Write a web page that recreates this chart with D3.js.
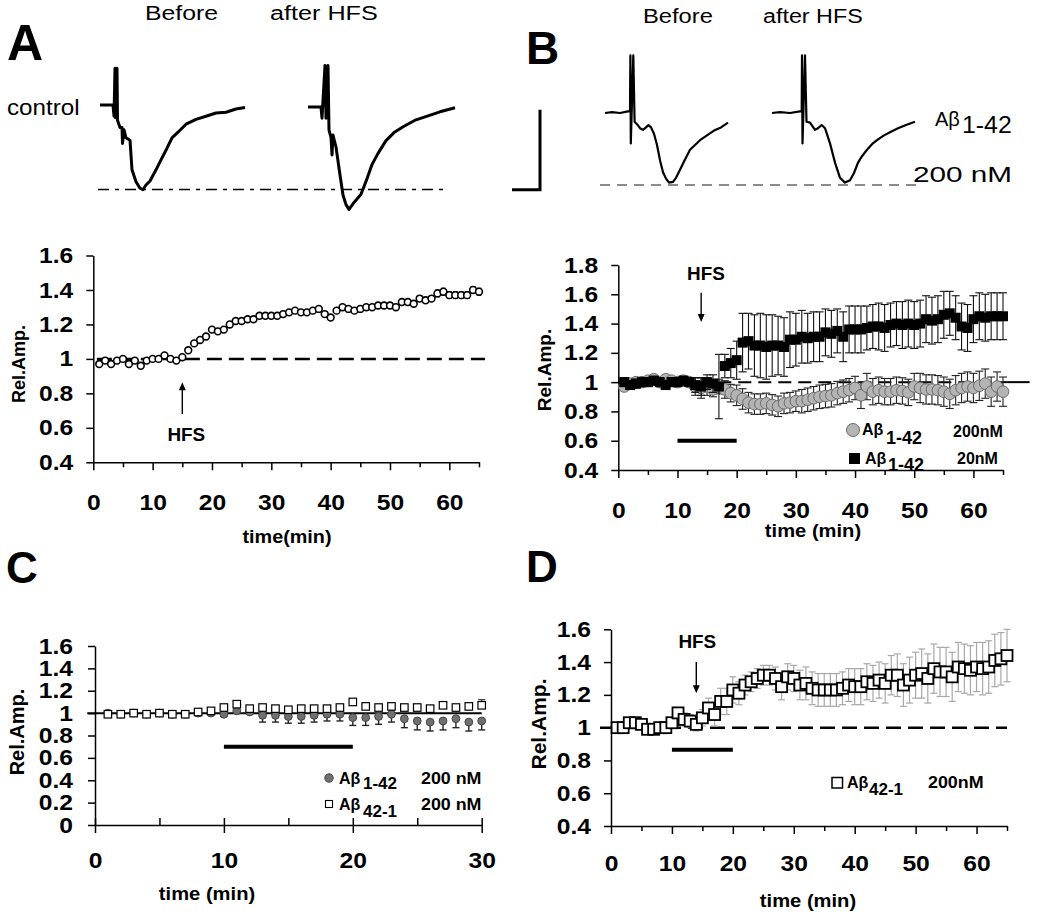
<!DOCTYPE html>
<html><head><meta charset="utf-8">
<script src="https://cdn.jsdelivr.net/npm/d3@7"></script>
<style>body{margin:0;background:#fff}svg{display:block}</style>
</head><body><svg id="c" width="1050" height="916"></svg>
<script>
// ---------------- DATA ----------------
// Panel A: control, relative amplitude per minute (1..65)
const ampA = [0.97,0.99,0.97,0.99,1.00,0.97,0.99,0.96,0.99,1.00,
  1.00,1.02,1.00,0.99,1.01,1.05,1.09,1.11,1.13,1.17,
  1.16,1.17,1.20,1.22,1.22,1.23,1.23,1.25,1.25,1.25,
  1.25,1.26,1.27,1.28,1.27,1.27,1.28,1.29,1.26,1.24,
  1.28,1.30,1.29,1.28,1.29,1.30,1.30,1.31,1.31,1.31,
  1.30,1.33,1.33,1.32,1.35,1.34,1.35,1.38,1.39,1.37,
  1.37,1.37,1.37,1.40,1.39];
const errA = [0.01,0.01,0.01,0.01,0.01,0.01,0.01,0.01,0.01,0.01,
  0.01,0.01,0.01,0.01,0.01,0.01,0.01,0.012,0.012,0.012,
  0.012,0.012,0.012,0.012,0.012,0.012,0.012,0.012,0.012,0.012,
  0.012,0.012,0.012,0.012,0.012,0.012,0.012,0.012,0.015,0.015,
  0.015,0.015,0.015,0.015,0.015,0.015,0.015,0.015,0.015,0.015,
  0.015,0.015,0.015,0.015,0.015,0.015,0.015,0.02,0.02,0.02,
  0.02,0.02,0.02,0.02,0.02];
// Panel B: Aβ1-42 20 nM (black squares) and 200 nM (grey circles)
const ampB20 = [1.00,0.98,0.99,1.00,1.00,1.01,1.00,0.98,1.00,1.00,
  1.01,1.00,0.98,0.97,1.00,0.99,0.97,1.11,1.13,1.15,
  1.27,1.28,1.25,1.25,1.24,1.25,1.25,1.24,1.29,1.29,
  1.31,1.30,1.31,1.31,1.34,1.33,1.35,1.31,1.36,1.36,
  1.36,1.37,1.38,1.38,1.37,1.39,1.40,1.39,1.40,1.39,
  1.40,1.43,1.42,1.43,1.46,1.47,1.44,1.38,1.37,1.43,
  1.45,1.44,1.45,1.45,1.45];
const errB20 = [0.03,0.03,0.03,0.03,0.03,0.03,0.03,0.03,0.03,0.03,
  0.03,0.03,0.05,0.06,0.05,0.06,0.22,0.08,0.10,0.13,
  0.20,0.19,0.21,0.22,0.22,0.21,0.20,0.20,0.19,0.18,
  0.18,0.17,0.17,0.17,0.16,0.16,0.15,0.17,0.16,0.16,
  0.16,0.15,0.15,0.16,0.16,0.15,0.15,0.16,0.16,0.16,
  0.16,0.16,0.16,0.16,0.16,0.15,0.15,0.16,0.16,0.16,
  0.16,0.16,0.16,0.16,0.16];
const ampB200 = [0.97,0.99,1.00,1.00,1.01,1.02,1.00,1.02,1.01,1.00,
  1.01,1.00,0.97,0.96,0.97,0.95,0.97,0.95,0.925,0.91,
  0.885,0.86,0.85,0.85,0.855,0.845,0.835,0.855,0.86,0.87,
  0.87,0.88,0.89,0.90,0.905,0.91,0.925,0.935,0.945,0.96,
  0.91,0.97,0.935,0.945,0.935,0.935,0.945,0.94,0.93,0.97,
  0.96,0.95,0.95,0.945,0.935,0.92,0.945,0.96,0.97,0.96,
  0.975,0.99,0.935,0.97,0.935];
const errB200 = [0.02,0.02,0.02,0.02,0.02,0.02,0.02,0.02,0.02,0.02,
  0.03,0.03,0.06,0.07,0.06,0.05,0.05,0.06,0.06,0.07,
  0.07,0.07,0.07,0.07,0.07,0.07,0.07,0.07,0.07,0.07,
  0.08,0.08,0.08,0.08,0.08,0.08,0.08,0.08,0.08,0.08,
  0.09,0.09,0.09,0.09,0.09,0.09,0.09,0.09,0.09,0.09,
  0.10,0.10,0.10,0.10,0.10,0.10,0.10,0.10,0.10,0.10,
  0.10,0.10,0.10,0.10,0.10];
// Panel C: Aβ1-42 200 nM (filled circles), Aβ42-1 200 nM (open squares), minutes 1..30
const ampC142 = [1.00,0.99,1.00,0.99,1.00,0.99,0.99,1.00,1.00,0.99,
  1.02,1.01,0.98,0.98,0.97,0.97,0.98,0.99,0.99,0.96,
  0.96,0.97,0.99,0.95,0.93,0.92,0.93,0.95,0.92,0.93];
const errC142 = [0.01,0.01,0.01,0.01,0.01,0.01,0.01,0.01,0.01,0.02,
  0.02,0.02,0.06,0.06,0.06,0.06,0.06,0.06,0.06,0.07,
  0.07,0.07,0.07,0.08,0.08,0.08,0.08,0.08,0.08,0.08];
const ampC421 = [0.99,0.99,1.00,0.99,1.00,0.99,0.99,1.01,1.02,1.05,
  1.08,1.04,1.05,1.04,1.03,1.04,1.04,1.04,1.05,1.10,
  1.06,1.05,1.06,1.05,1.05,1.04,1.07,1.05,1.06,1.07];
const errC421 = [0.01,0.01,0.01,0.01,0.01,0.01,0.01,0.01,0.01,0.01,
  0.01,0.01,0.01,0.01,0.01,0.01,0.01,0.01,0.01,0.02,
  0.02,0.02,0.02,0.02,0.02,0.02,0.02,0.02,0.02,0.05];
// Panel D: Aβ42-1 200 nM
const ampD = [1.00,1.00,1.03,1.03,1.02,0.99,0.99,1.00,1.00,1.03,
  1.09,1.05,1.04,1.02,1.06,1.12,1.08,1.16,1.16,1.23,
  1.21,1.26,1.28,1.30,1.32,1.32,1.30,1.25,1.31,1.30,
  1.26,1.27,1.24,1.23,1.23,1.23,1.23,1.24,1.26,1.25,
  1.25,1.28,1.27,1.29,1.27,1.32,1.32,1.26,1.29,1.32,
  1.33,1.30,1.36,1.34,1.34,1.31,1.37,1.36,1.35,1.37,
  1.36,1.37,1.41,1.42,1.44];
const errD = [0.02,0.02,0.02,0.02,0.02,0.02,0.02,0.02,0.02,0.03,
  0.03,0.04,0.04,0.04,0.05,0.06,0.07,0.08,0.08,0.08,
  0.07,0.06,0.06,0.06,0.06,0.06,0.07,0.08,0.08,0.08,
  0.09,0.10,0.10,0.10,0.10,0.10,0.10,0.10,0.10,0.11,
  0.11,0.11,0.11,0.11,0.12,0.12,0.13,0.13,0.14,0.14,
  0.15,0.15,0.15,0.15,0.15,0.15,0.15,0.15,0.15,0.15,
  0.16,0.16,0.16,0.16,0.16];
// tick values
const yTicksA = [0.4,0.6,0.8,1,1.2,1.4,1.6];
const yTicksB = [0.4,0.6,0.8,1,1.2,1.4,1.6,1.8];
const yTicksC = [0,0.2,0.4,0.6,0.8,1,1.2,1.4,1.6];
const yTicksD = [0.4,0.6,0.8,1,1.2,1.4,1.6];
const xTicks65 = [0,5,10,15,20,25,30,35,40,45,50,55,60,65];
const xTicks30 = [0,5,10,15,20,25,30];
// events
const hfsA = 15, hfsB = 14, hfsD = 14;
const drugBar = [10,20];
// field potential traces: [ms, mV]
const traceA1 = [[0,0],[2.6,0],[2.8,-0.14],[3.0,0.46],[3.1,-0.16],[3.4,0.46],[3.5,-0.19],[4.0,-0.28],[4.4,-0.28],[4.5,-0.48],[4.8,-0.31],[5.2,-0.41],[6.0,-0.44],[6.4,-0.81],[7.2,-0.96],[8.0,-1.04],[8.6,-1.06],[9.2,-1.0],[10.0,-0.95],[11.2,-0.81],[12.4,-0.66],[13.4,-0.54],[14.4,-0.41],[15.6,-0.34],[17.2,-0.24],[19.2,-0.18],[21.2,-0.14],[23.2,-0.10],[25.2,-0.09],[27.2,-0.05],[29.0,-0.03]];
const traceA2 = [[0,0],[2.6,0],[2.8,-0.14],[3.4,0.52],[3.6,-0.14],[4.0,0.52],[4.2,-0.29],[4.6,-0.38],[4.8,-0.6],[5.0,-0.35],[5.6,-0.5],[6.4,-0.85],[7.0,-1.1],[7.6,-1.22],[8.2,-1.28],[9.0,-1.21],[9.8,-1.15],[10.6,-1.09],[11.6,-0.93],[12.8,-0.72],[14.0,-0.58],[15.6,-0.42],[17.2,-0.32],[19.2,-0.24],[21.6,-0.16],[24.0,-0.11],[26.4,-0.06],[29.4,-0.01]];
const traceB1 = [[0,0],[1.4,0.01],[3.0,0],[4.6,0.02],[5.0,0.02],[5.08,0.72],[5.16,-0.38],[5.66,0.72],[5.92,-0.11],[6.4,-0.14],[7.0,-0.19],[7.6,-0.21],[8.2,-0.18],[8.7,-0.15],[9.2,-0.18],[9.8,-0.26],[10.4,-0.4],[11.0,-0.59],[11.6,-0.74],[12.2,-0.82],[12.8,-0.87],[13.6,-0.86],[14.2,-0.81],[15.0,-0.71],[16.0,-0.58],[17.0,-0.46],[18.0,-0.4],[19.0,-0.34],[20.4,-0.28],[21.8,-0.22],[23.2,-0.18],[24.6,-0.12]];
const traceB2 = [[0,0],[1.6,0.01],[3.6,0],[5.6,0.02],[5.94,0.02],[6.0,0.72],[6.1,-0.38],[6.6,0.72],[6.9,-0.11],[7.6,-0.12],[8.6,-0.21],[9.2,-0.19],[9.94,-0.15],[10.6,-0.19],[11.6,-0.38],[12.6,-0.62],[13.6,-0.81],[14.6,-0.87],[15.6,-0.84],[16.4,-0.75],[17.2,-0.62],[18.0,-0.54],[19.0,-0.46],[20.0,-0.39],[21.0,-0.34],[22.4,-0.28],[23.6,-0.24],[25.2,-0.19],[26.8,-0.15],[28.6,-0.11]];
const scaleBar = {ms: 5.6, mV: 1.0};

// ---------------- DRAWING ----------------
const FONT = '"Liberation Sans", Arial, Helvetica, sans-serif';
const svg = d3.select("#c").attr("font-family", FONT);
const SX = 1.12;

function T(x, y, str, o = {}) {
  const s = o.sx || SX;
  return svg.append("text")
    .attr("transform", `translate(${x},${y}) scale(${s},1)`)
    .attr("font-family", FONT)
    .attr("font-size", o.size || 20)
    .attr("font-weight", o.bold ? "bold" : "normal")
    .attr("text-anchor", o.anchor || "start")
    .attr("fill", o.fill || "#000")
    .text(str);
}
function vText(x, y, str, size) {
  svg.append("text").attr("transform", `translate(${x},${y}) rotate(-90)`)
    .attr("font-family", FONT).attr("font-size", size).attr("font-weight", "bold")
    .attr("text-anchor", "middle").attr("dominant-baseline", "central").text(str);
}
const yfmt = d => String(+d.toFixed(1));

function axes(x, y, o) {
  const g = svg.append("g");
  const gy = g.append("g").attr("transform", `translate(${x(0)},0)`)
    .call(d3.axisLeft(y).tickValues(o.yTicks).tickSize(7).tickPadding(o.yPad || 13).tickSizeOuter(0).tickFormat(yfmt));
  const gx = g.append("g").attr("transform", `translate(0,${y(o.yTicks[0])})`)
    .call(d3.axisBottom(x).tickValues(o.xTicks).tickSize(8).tickPadding(o.xPad).tickSizeOuter(0)
      .tickFormat(d => d % 10 === 0 ? d : ""));
  [gx, gy].forEach(a => {
    a.attr("font-family", FONT).attr("font-size", null);
    a.select(".domain").attr("stroke", "#000").attr("stroke-width", 1.5);
    a.selectAll(".tick line").attr("stroke", "#000").attr("stroke-width", 1.5);
    a.selectAll(".tick text").attr("font-size", o.fs || 22).attr("font-weight", o.weight || "bold").attr("fill", "#000")
      .each(function () {
        const t = d3.select(this); const xx = +t.attr("x") || 0;
        t.attr("x", xx / SX).attr("transform", `scale(${SX},1)`);
      });
  });
  if (o.crossMajor) {
    gx.selectAll(".tick line").attr("y1", d => d % 10 === 0 ? -7 : 0).attr("y2", d => d % 10 === 0 ? 8 : -7);
  } else {
    gx.selectAll(".tick line").attr("y2", d => d % 10 === 0 ? 8 : 5);
  }
}

function errBars(x, y, vals, errs, o) {
  const g = svg.append("g").attr("stroke", o.color || "#000").attr("stroke-width", o.w || 1.2).attr("fill", "none");
  const c = (o.cap || 6) / 2;
  vals.forEach((v, i) => {
    const t = i + 1, e = errs[i];
    const hi = o.dir === "down" ? v : v + e, lo = o.dir === "up" ? v : v - e;
    g.append("line").attr("x1", x(t)).attr("x2", x(t)).attr("y1", y(hi)).attr("y2", y(lo));
    if (o.dir !== "down") g.append("line").attr("x1", x(t) - c).attr("x2", x(t) + c).attr("y1", y(hi)).attr("y2", y(hi));
    if (o.dir !== "up") g.append("line").attr("x1", x(t) - c).attr("x2", x(t) + c).attr("y1", y(lo)).attr("y2", y(lo));
  });
}
function circles(x, y, vals, o) {
  svg.append("g").selectAll("circle").data(vals).join("circle")
    .attr("cx", (d, i) => x(i + 1)).attr("cy", d => y(d)).attr("r", o.r)
    .attr("fill", o.fill).attr("stroke", o.stroke).attr("stroke-width", o.sw);
}
function squares(x, y, vals, o) {
  svg.append("g").selectAll("rect").data(vals).join("rect")
    .attr("x", (d, i) => x(i + 1) - o.s / 2).attr("y", d => y(d) - o.s / 2)
    .attr("width", o.s).attr("height", o.s)
    .attr("fill", o.fill).attr("stroke", o.stroke).attr("stroke-width", o.sw);
}
function hline(x, y, t0, t1, v, o) {
  svg.append("line").attr("x1", x(t0)).attr("x2", x(t1)).attr("y1", y(v)).attr("y2", y(v))
    .attr("stroke", o.color || "#000").attr("stroke-width", o.w || 2).attr("stroke-dasharray", o.dash || null);
}
function arrow(x, y, t, vFrom, vTo) {
  const x0 = x(t), y0 = y(vFrom), y1 = y(vTo);
  const dir = y1 > y0 ? 1 : -1;
  svg.append("line").attr("x1", x0).attr("x2", x0).attr("y1", y0).attr("y2", y1 - dir * 6)
    .attr("stroke", "#000").attr("stroke-width", 1.4);
  svg.append("path").attr("d", `M${x0 - 3.5},${y1 - dir * 8}L${x0 + 3.5},${y1 - dir * 8}L${x0},${y1}Z`).attr("fill", "#000");
}

// ---------- Panel letters & trace headers ----------
T(7, 60, "A", {size: 50, bold: true, sx: 1});
T(526, 64, "B", {size: 46, bold: true, sx: 1});
T(6, 583, "C", {size: 44, bold: true, sx: 1});
T(526, 582, "D", {size: 44, bold: true, sx: 1});

T(145, 20, "Before", {size: 21, sx: 1.18});
T(270, 20, "after HFS", {size: 21, sx: 1.2});
T(643, 23, "Before", {size: 21, sx: 1.13});
T(763, 23, "after HFS", {size: 21, sx: 1.11});
T(7, 115, "control", {size: 22, sx: 1.1});

// ---------- Traces ----------
function traceScales(x0, y0) {
  return [d3.scaleLinear().domain([0, 1]).range([x0, x0 + 5]),
          d3.scaleLinear().domain([0, -1]).range([y0, y0 + 80])];
}
function drawTrace(data, sc, w) {
  svg.append("path").datum(data)
    .attr("d", d3.line().x(d => sc[0](d[0])).y(d => sc[1](d[1])))
    .attr("fill", "none").attr("stroke", "#000").attr("stroke-width", w)
    .attr("stroke-linejoin", "round");
}
const scA1 = traceScales(100, 105), scA2 = traceScales(308, 107);
const scB1 = traceScales(605, 113), scB2 = traceScales(772, 113);
// dashed reference lines (peak level)
svg.append("line").attr("x1", scA1[0](-0.4)).attr("x2", scA1[0](69)).attr("y1", scA1[1](-1.056)).attr("y2", scA1[1](-1.056))
  .attr("stroke", "#000").attr("stroke-width", 1.6).attr("stroke-dasharray", "11,6,4,6");
svg.append("line").attr("x1", scB1[0](-1)).attr("x2", scB1[0](63)).attr("y1", scB1[1](-0.9)).attr("y2", scB1[1](-0.9))
  .attr("stroke", "#666").attr("stroke-width", 1.4).attr("stroke-dasharray", "10,7");
drawTrace(traceA1, scA1, 3);
drawTrace(traceA2, scA2, 3);
drawTrace(traceB1, scB1, 2.2);
drawTrace(traceB2, scB2, 2.2);
// scale bar
{
  const cx = scB1[0](-13), cy = scB1[1](-0.96);
  svg.append("path")
    .attr("d", `M${cx},${scB1[1](-0.96 + scaleBar.mV)}L${cx},${cy}L${scB1[0](-13 - scaleBar.ms)},${cy}`)
    .attr("fill", "none").attr("stroke", "#000").attr("stroke-width", 3);
}
T(935, 126, "Aβ", {size: 20, sx: 1});
T(962, 133, "1-42", {size: 23, sx: 1.08});
T(913, 182, "200 nM", {size: 22, sx: 1.35});

// ---------- Panel A ----------
{
  const x = d3.scaleLinear().domain([0, 65]).range([93.3, 479]);
  const y = d3.scaleLinear().domain([0.4, 1.6]).range([462.3, 255.5]);
  axes(x, y, {yTicks: yTicksA, xTicks: xTicks65, xPad: 24});
  hline(x, y, 0.6, 66, 1, {w: 2.5, dash: "15,7"});
  errBars(x, y, ampA, errA, {cap: 5, w: 1});
  circles(x, y, ampA, {r: 3.4, fill: "#fff", stroke: "#000", sw: 1.6});
  arrow(x, y, hfsA, 0.68, 0.865);
  T(x(hfsA) + 4, y(0.525), "HFS", {size: 18, bold: true, anchor: "middle", sx: 1.05});
  vText(19, 364, "Rel.Amp.", 18);
  T(287, 543, "time(min)", {size: 18, bold: true, anchor: "middle", sx: 1.1});
}

// ---------- Panel B ----------
{
  const x = d3.scaleLinear().domain([0, 65]).range([618.3, 1003]);
  const y = d3.scaleLinear().domain([0.4, 1.8]).range([470, 265]);
  axes(x, y, {yTicks: yTicksB, xTicks: xTicks65, xPad: 24});
  hline(x, y, 0, 65, 1, {w: 2, dash: "13,7"});
  hline(x, y, 65, 69.5, 1, {w: 2});
  hline(x, y, drugBar[0], drugBar[1], 0.6, {w: 4});
  errBars(x, y, ampB200, errB200, {cap: 8, w: 1.1, color: "#222"});
  circles(x, y, ampB200, {r: 5.8, fill: "#b4b4b4", stroke: "#6a6a6a", sw: 1});
  errBars(x, y, ampB20, errB20, {cap: 8, w: 1.1, color: "#111"});
  squares(x, y, ampB20, {s: 10, fill: "#000", stroke: "#000", sw: 0});
  arrow(x, y, hfsB, 1.61, 1.41);
  T(x(hfsB + 0.8), y(1.70), "HFS", {size: 18, bold: true, anchor: "middle", sx: 1.05});
  vText(544, 370, "Rel.Amp.", 19);
  T(813, 537, "time (min)", {size: 18, bold: true, anchor: "middle", sx: 1.12});
  // legend
  svg.append("circle").attr("cx", 853).attr("cy", 430).attr("r", 6.5).attr("fill", "#b4b4b4").attr("stroke", "#6a6a6a");
  T(862, 435, "Aβ", {size: 16, bold: true, sx: 1});
  T(886, 444, "1-42", {size: 18, bold: true, sx: 1});
  T(953, 437, "200nM", {size: 16, bold: true, sx: 1});
  svg.append("rect").attr("x", 849).attr("y", 453).attr("width", 11).attr("height", 11).attr("fill", "#000");
  T(865, 464, "Aβ", {size: 16, bold: true, sx: 1});
  T(888, 471, "1-42", {size: 18, bold: true, sx: 1});
  T(957, 464, "20nM", {size: 16, bold: true, sx: 1});
}

// ---------- Panel C ----------
{
  const x = d3.scaleLinear().domain([0, 30]).range([95, 481.7]);
  const y = d3.scaleLinear().domain([0, 1.6]).range([825, 646]);
  axes(x, y, {yTicks: yTicksC, xTicks: xTicks30, xPad: 19, crossMajor: true, yPad: 15});
  hline(x, y, -0.6, 30, 1, {w: 2});
  hline(x, y, drugBar[0], drugBar[1], 0.7, {w: 4});
  errBars(x, y, ampC142, errC142, {cap: 7, w: 1.4, dir: "down", color: "#222"});
  errBars(x, y, ampC421, errC421, {cap: 7, w: 1.2, dir: "up", color: "#333"});
  circles(x, y, ampC142, {r: 3.9, fill: "#707070", stroke: "#444", sw: 1});
  squares(x, y, ampC421, {s: 7.5, fill: "#fff", stroke: "#000", sw: 1.2});
  vText(17, 732, "Rel.Amp.", 20);
  T(207, 900, "time (min)", {size: 18, bold: true, anchor: "middle", sx: 1.12});
  svg.append("circle").attr("cx", 329).attr("cy", 778).attr("r", 4.2).attr("fill", "#707070").attr("stroke", "#444");
  T(339, 784, "Aβ", {size: 16, bold: true, sx: 1});
  T(363, 789, "1-42", {size: 17, bold: true, sx: 1});
  T(421, 784, "200 nM", {size: 17, bold: true, sx: 1.05});
  svg.append("rect").attr("x", 325.5).attr("y", 800.5).attr("width", 7).attr("height", 7).attr("fill", "#fff").attr("stroke", "#000").attr("stroke-width", 1.1);
  T(339, 810, "Aβ", {size: 16, bold: true, sx: 1});
  T(363, 817, "42-1", {size: 17, bold: true, sx: 1});
  T(421, 810, "200 nM", {size: 17, bold: true, sx: 1.05});
}

// ---------- Panel D ----------
{
  const x = d3.scaleLinear().domain([0, 65]).range([611, 1007]);
  const y = d3.scaleLinear().domain([0.4, 1.6]).range([826, 629.3]);
  axes(x, y, {yTicks: yTicksD, xTicks: xTicks65, xPad: 21});
  hline(x, y, -1.8, 65, 1, {w: 2.5, dash: "15,7"});
  hline(x, y, drugBar[0], drugBar[1], 0.865, {w: 4});
  errBars(x, y, ampD, errD, {cap: 7, w: 1.2, color: "#a8a8a8"});
  squares(x, y, ampD, {s: 11, fill: "#fff", stroke: "#000", sw: 1.8});
  arrow(x, y, hfsD, 1.40, 1.21);
  T(x(hfsD) + 1, y(1.486), "HFS", {size: 18, bold: true, anchor: "middle", sx: 1.05});
  vText(538, 724, "Rel.Amp.", 21);
  T(808, 907, "time (min)", {size: 18, bold: true, anchor: "middle", sx: 1.12});
  svg.append("rect").attr("x", 832).attr("y", 777.5).attr("width", 10.5).attr("height", 10.5).attr("fill", "#fff").attr("stroke", "#000").attr("stroke-width", 1.5);
  T(847, 788, "Aβ", {size: 16, bold: true, sx: 1});
  T(869, 795, "42-1", {size: 17, bold: true, sx: 1});
  T(928, 788, "200nM", {size: 17, bold: true, sx: 1.05});
}
</script></body></html>
